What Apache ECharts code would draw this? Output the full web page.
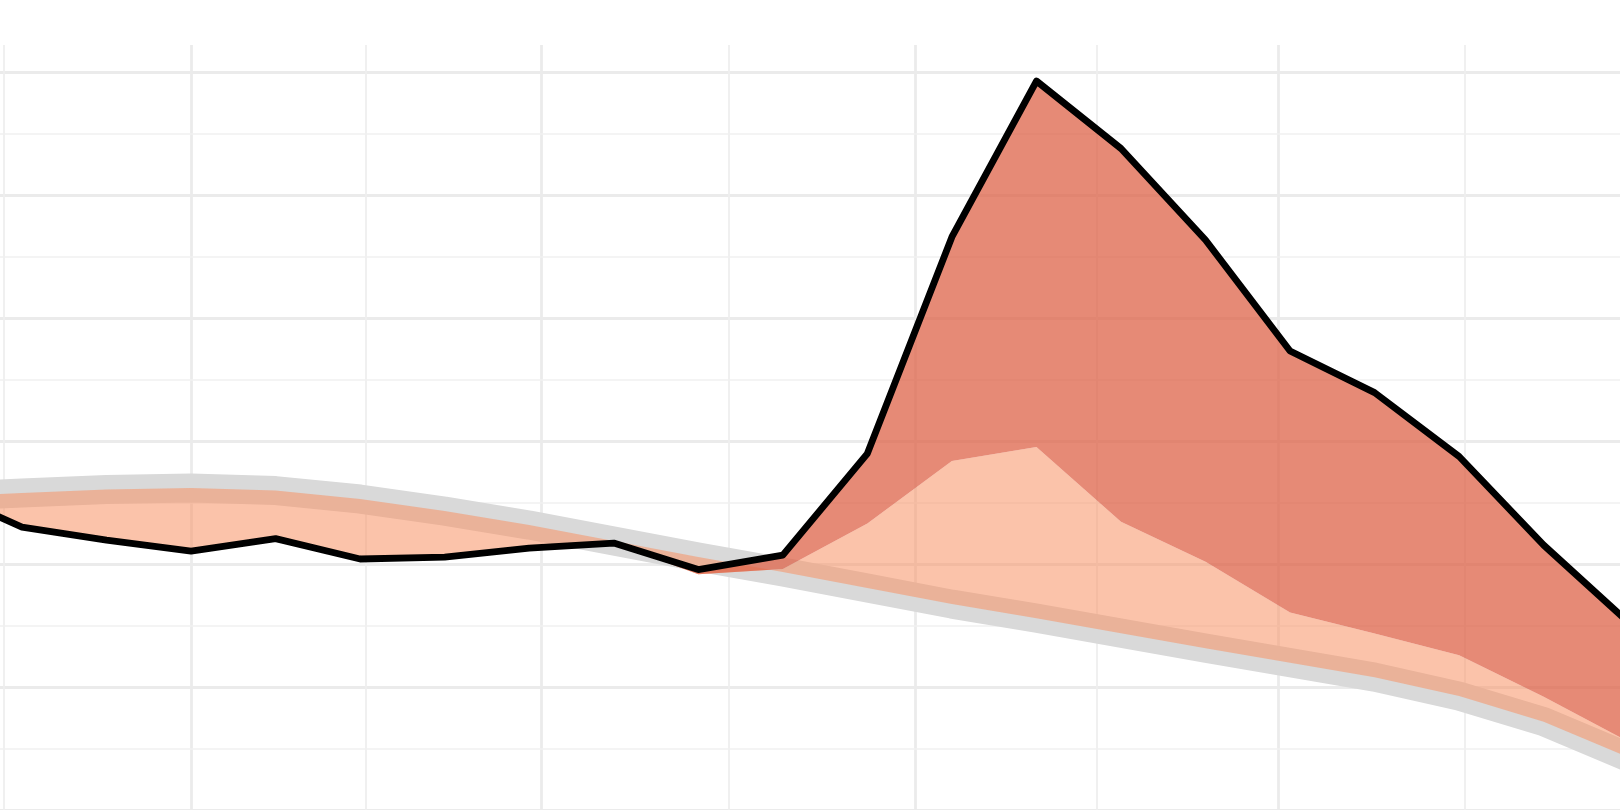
<!DOCTYPE html>
<html>
<head>
<meta charset="utf-8">
<style>
  html, body { margin: 0; padding: 0; background: #fff; }
  #chart { width: 1620px; height: 810px; }
</style>
<script src="https://cdn.jsdelivr.net/npm/echarts@6/dist/echarts.min.js"></script>
</head>
<body>
<div id="chart"></div>
<script>
// weekly points (week ending dates)
const weeks = ['2020-01-11', '2020-01-18', '2020-01-25', '2020-02-01', '2020-02-08', '2020-02-15',
    '2020-02-22', '2020-02-29', '2020-03-07', '2020-03-14', '2020-03-21', '2020-03-28', '2020-04-04',
    '2020-04-11', '2020-04-18', '2020-04-25', '2020-05-02', '2020-05-09', '2020-05-16', '2020-05-23',
    '2020-05-30'];

// grey baseline (expected)
const expected = [254.6, 257.9, 260.7, 261.9, 259.9, 253.0, 243.2, 231.8, 218.8, 205.8, 193.6,
    180.6, 167.5, 156.1, 143.9, 131.7, 119.9, 108.1, 92.7, 71.9, 43.0];

// top of the light band (same as the black line until mid March)
const middle = [261.0, 230.2, 219.6, 210.7, 220.8, 204.2, 205.8, 213.1, 217.2, 191.9, 196.0,
    233.0, 283.9, 295.3, 234.5, 202.0, 160.6, 143.7, 126.0, 92.1, 55.7];

// black line (observed)
const actual = [261.0, 230.2, 219.6, 210.7, 220.8, 204.2, 205.8, 213.1, 217.2, 195.6, 207.4,
    290.0, 466.2, 593.1, 538.2, 463.7, 373.4, 339.6, 287.6, 215.5, 152.9];

// visible window of the x axis (the plot is cropped on both sides)
const viewStart = '2020-01-16 04:18';
const viewEnd = '2020-05-29 07:41';

// grid breaks: month starts are major, halfway points minor
const monthStarts = ['2020-01-01', '2020-02-01', '2020-03-01', '2020-04-01', '2020-05-01', '2020-06-01'];
const yTicksMinor = [50, 150, 250, 350, 450, 550];
const yInterval = 100;
const yTop = 622.4;

function toTime(s) {
    // same local-time parsing ECharts uses for 'YYYY-MM-DD hh:mm'
    const m = s.match(/(\d+)-(\d+)-(\d+)(?: (\d+):(\d+))?/);
    return new Date(+m[1], +m[2] - 1, +m[3], +(m[4] || 0), +(m[5] || 0)).getTime();
}

const tStart = toTime(viewStart);
const tEnd = toTime(viewEnd);

const majorX = monthStarts.map(toTime);
const minorX = [];
for (let i = 1; i < majorX.length; i++) {
    minorX.push((majorX[i - 1] + majorX[i]) / 2);
}

function vLine(tv, width, color) {
    return [
        {coord: [tv, 0], lineStyle: {width: width, color: color, type: 'solid'}},
        {coord: [tv, yTop]}
    ];
}

const gridLines = [];
majorX.filter(v => v > tStart && v < tEnd).forEach(v => gridLines.push(vLine(v, 2.8, '#ebebeb')));
minorX.filter(v => v > tStart && v < tEnd).forEach(v => gridLines.push(vLine(v, 1.8, '#efefef')));
yTicksMinor.forEach(v => gridLines.push({yAxis: v, lineStyle: {width: 1.6, color: '#f0f0f0', type: 'solid'}}));

const pairs = arr => weeks.map((w, i) => [toTime(w), arr[i]]);
const diff = (a, b) => weeks.map((w, i) => [toTime(w), +(a[i] - b[i]).toFixed(2)]);

const hidden = {width: 0, opacity: 0};

const chart = echarts.init(document.getElementById('chart'));
chart.setOption({
    animation: false,
    backgroundColor: '#ffffff',
    grid: {left: 0, right: 0, top: 45, bottom: 0},
    xAxis: {
        type: 'time',
        min: tStart,
        max: tEnd,
        axisLine: {show: false},
        axisTick: {show: false},
        axisLabel: {show: false},
        splitLine: {show: false}
    },
    yAxis: {
        type: 'value',
        min: 0,
        max: yTop,
        interval: yInterval,
        axisLine: {show: false},
        axisTick: {show: false},
        axisLabel: {show: false},
        splitLine: {show: true, showMaxLine: false, lineStyle: {color: '#ebebeb', width: 2.8}}
    },
    series: [
        {
            name: 'grid',
            type: 'line',
            data: [],
            z: 1,
            silent: true,
            markLine: {
                silent: true,
                z: 1,
                symbol: 'none',
                label: {show: false},
                emphasis: {disabled: true},
                data: gridLines
            }
        },
        {
            name: 'expected',
            type: 'line',
            data: pairs(expected),
            symbol: 'none',
            z: 2,
            silent: true,
            lineStyle: {color: '#d9d9d9', width: 29, join: 'round', cap: 'butt'}
        },
        {
            name: 'lightBase',
            type: 'line',
            stack: 'light',
            stackStrategy: 'all',
            data: pairs(expected),
            symbol: 'none',
            z: 3,
            silent: true,
            lineStyle: hidden
        },
        {
            name: 'light',
            type: 'line',
            stack: 'light',
            stackStrategy: 'all',
            data: diff(middle, expected),
            symbol: 'none',
            z: 3,
            silent: true,
            lineStyle: hidden,
            areaStyle: {color: 'rgba(248,146,100,0.55)', opacity: 1}
        },
        {
            name: 'darkBase',
            type: 'line',
            stack: 'dark',
            stackStrategy: 'all',
            data: pairs(middle),
            symbol: 'none',
            z: 4,
            silent: true,
            lineStyle: hidden
        },
        {
            name: 'dark',
            type: 'line',
            stack: 'dark',
            stackStrategy: 'all',
            data: diff(actual, middle),
            symbol: 'none',
            z: 4,
            silent: true,
            lineStyle: hidden,
            areaStyle: {color: 'rgba(222,99,72,0.75)', opacity: 1}
        },
        {
            name: 'actual',
            type: 'line',
            data: pairs(actual),
            symbol: 'none',
            z: 5,
            silent: true,
            lineStyle: {color: '#000000', width: 6.8, join: 'round'}
        }
    ]
});
</script>
</body>
</html>
